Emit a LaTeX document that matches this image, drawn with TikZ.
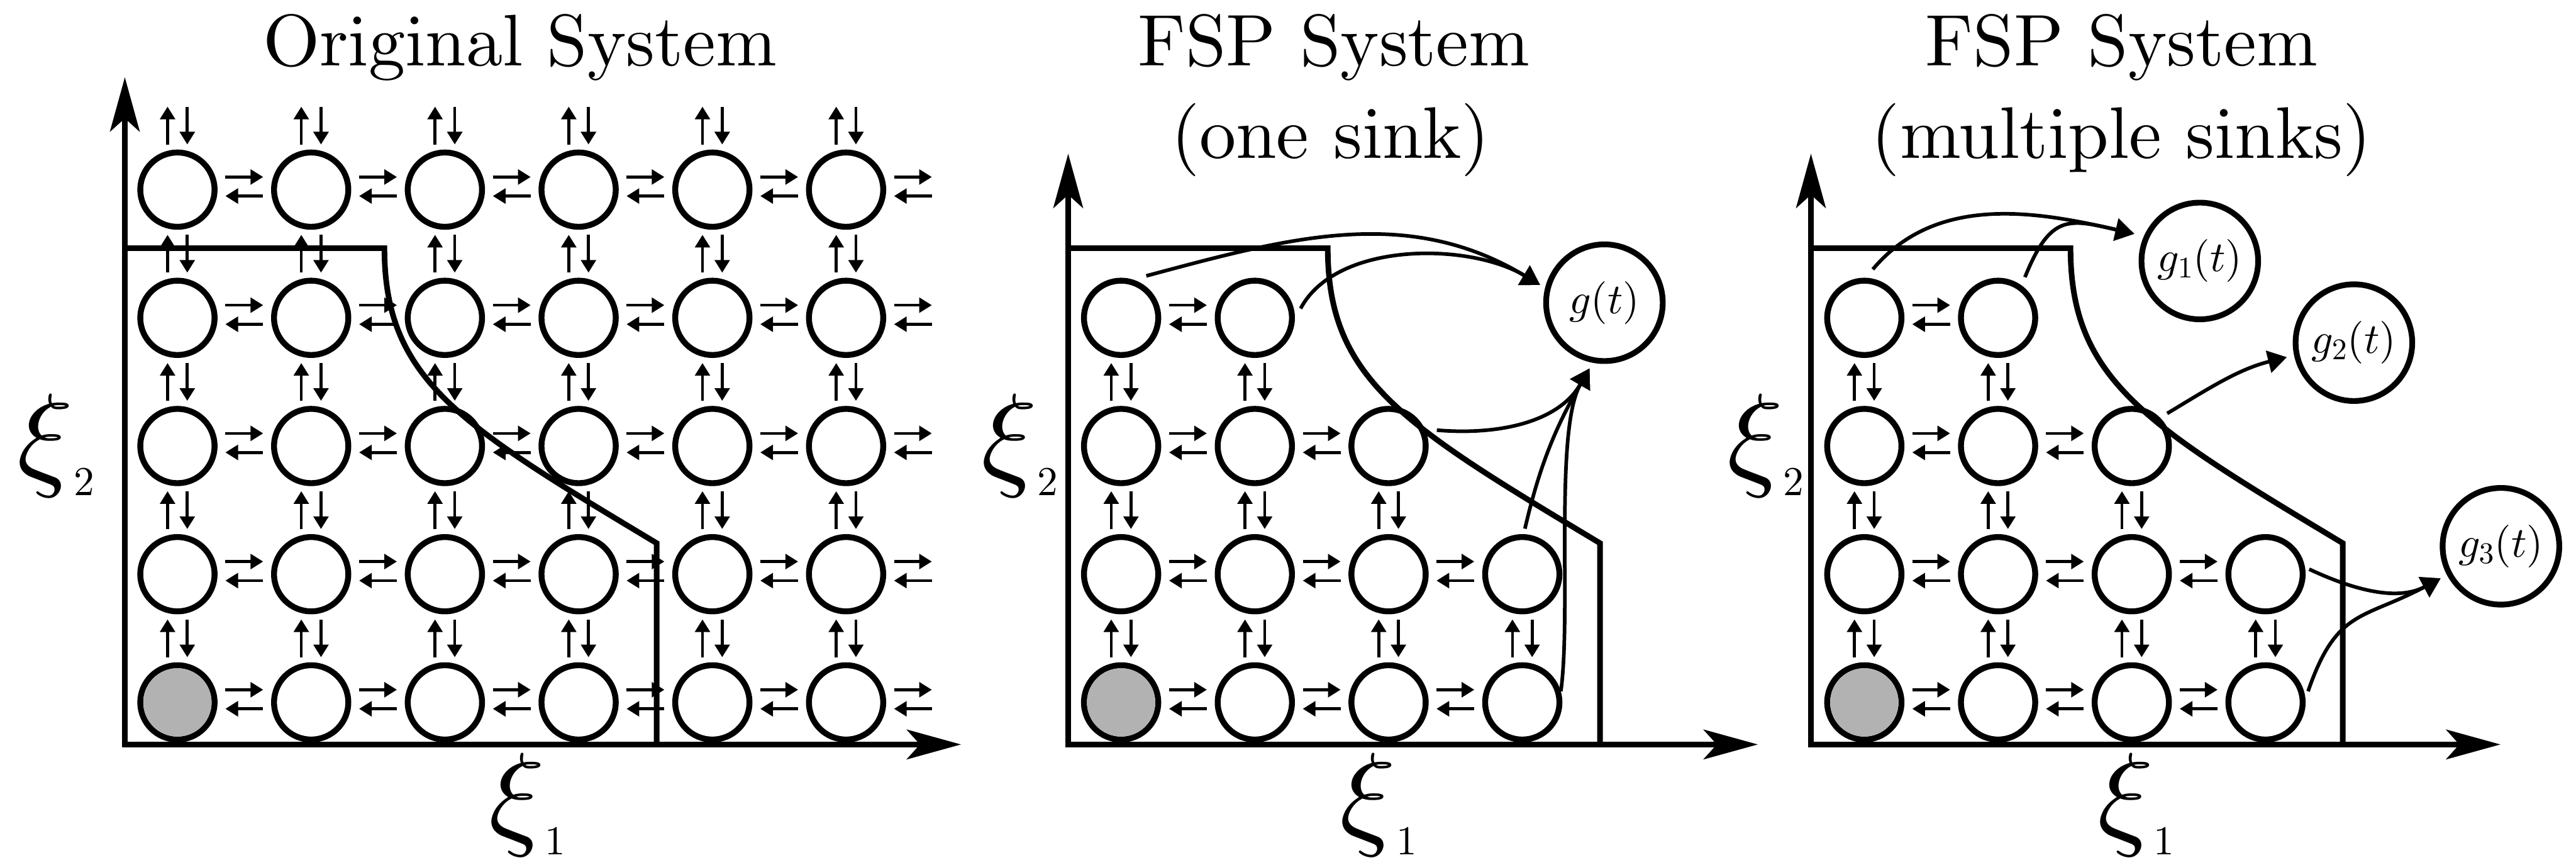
\documentclass[tikz,border=0pt]{standalone}
\DeclareFontShape{OML}{cmm}{m}{it}{<->cmmi10}{}
\DeclareFontShape{OT1}{cmr}{m}{n}{<->cmr10}{}
\usetikzlibrary{arrows.meta,calc}
\newcommand\hpr[1]{%
  \draw[sa] ([shift={(-11.5,7.7)}]#1) -- ([shift={(11.5,7.7)}]#1);
  \draw[sa] ([shift={(11.5,-3.9)}]#1) -- ([shift={(-11.5,-3.9)}]#1);}
\newcommand\vpr[1]{%
  \draw[sa] ([shift={(-6,-11.5)}]#1) -- ([shift={(-6,11.5)}]#1);
  \draw[sa] ([shift={(6,11.5)}]#1) -- ([shift={(6,-11.5)}]#1);}
\newcommand\xil[1]{{\fontsize{70.6}{70}\selectfont$\xi$}\raisebox{-12.5pt}{\fontencoding{OT1}\fontfamily{cmr}\fontsize{25}{25}\selectfont #1}}
\newcommand\ttlfont{\fontencoding{OT1}\fontfamily{cmr}\fontseries{m}\fontshape{n}\fontsize{44.5}{53}\selectfont}
\begin{document}
\begin{tikzpicture}[x=1pt,y=1pt,
  st/.style={circle,draw,line width=3.6pt,minimum size=45.2pt,inner sep=0pt,outer sep=1.8pt},
  sink/.style={circle,draw,line width=3.5pt,minimum size=71pt,inner sep=0pt,outer sep=1.75pt,font=\fontsize{26}{26}\selectfont},
  sa/.style={line width=1.8pt,-{Triangle[length=7.7pt,width=9pt]}},
  axs/.style={line width=3.4pt,{Stealth[length=33pt,width=18pt,inset=8pt]}-{Stealth[length=33pt,width=18pt,inset=8pt]}},
  bd/.style={line width=3.4pt,line join=miter},
  sk/.style={line width=2.2pt,-{Triangle[length=11.5pt,width=13.5pt]}},
  ttl/.style={font=\ttlfont,anchor=base,inner sep=0pt},
  xl/.style={anchor=base west,inner sep=0pt}]
\useasboundingbox (0,0) rectangle (1568,523);

% ---------- titles ----------
\node[ttl] (t1) at (316.6,483) {Original System};
\node[ttl] (t2a) at (812,483) {FSP System};
\node[ttl] (t2b) at (810,426.6) {(one sink)};
\node[ttl] (t3a) at (1291.5,483) {FSP System};
\node[ttl] (t3b) at (1291.5,426.6) {(multiple sinks)};

% ---------- axes ----------
\draw[axs] (76,476) -- (76,70) -- (585,70);
\draw[axs] (650.2,429.5) -- (650.2,70) -- (1070,70);
\draw[axs] (1102.3,429.5) -- (1102.3,70) -- (1522,70);

% ---------- boundaries ----------
\draw[bd] (76,372) -- (234,372) .. controls (234,292) and (279.7,264.5) .. (399.7,192.5) -- (399.7,70);
\draw[bd] (650.2,372) -- (808.2,372) .. controls (808.2,292) and (853.9,264.5) .. (973.9,192.5) -- (973.9,70);
\draw[bd] (1102.3,372) -- (1260.3,372) .. controls (1260.3,292) and (1306,264.5) .. (1426,192.5) -- (1426,70);

% ---------- axis labels ----------
\node[xl] (xa2) at (10.5,234) {\xil{2}};
\node[xl] (xb2) at (597,234) {\xil{2}};
\node[xl] (xc2) at (1051,234) {\xil{2}};
\node[xl] (xa1) at (297.5,15.5) {\xil{1}};
\node[xl] (xb1) at (815.5,15.5) {\xil{1}};
\node[xl] (xc1) at (1276.5,15.5) {\xil{1}};

% ---------- panel 1 ----------
\foreach \c in {1,...,6}{\foreach \r in {1,...,5}{
  \node[st] (a\c\r) at ({108+81.4*(\c-1)},{95.6+78*(\r-1)}) {};}}
\fill[black!30] (a11.center) circle[radius=20.8];
\foreach \r in {1,...,5}{
  \foreach \c [evaluate=\c as \d using int(\c+1)] in {1,...,5}{
    \coordinate (m) at ($(a\c\r)!0.5!(a\d\r)$); \hpr{m}}
  \coordinate (m) at ($(a6\r)+(40.7,0)$); \hpr{m}}
\foreach \c in {1,...,6}{
  \foreach \r [evaluate=\r as \s using int(\r+1)] in {1,...,4}{
    \coordinate (m) at ($(a\c\r)!0.5!(a\c\s)$); \vpr{m}}
  \coordinate (m) at ($(a\c5)+(0,39)$); \vpr{m}}

% ---------- panel 2 ----------
\foreach \c/\n in {1/4,2/4,3/3,4/2}{\foreach \r in {1,...,\n}{
  \node[st] (b\c\r) at ({682.4+81.4*(\c-1)},{95.6+78*(\r-1)}) {};}}
\fill[black!30] (b11.center) circle[radius=20.8];
\foreach \r/\n in {1/3,2/3,3/2,4/1}{
  \foreach \c [evaluate=\c as \d using int(\c+1)] in {1,...,\n}{
    \coordinate (m) at ($(b\c\r)!0.5!(b\d\r)$); \hpr{m}}}
\foreach \c/\n in {1/3,2/3,3/2,4/1}{
  \foreach \r [evaluate=\r as \s using int(\r+1)] in {1,...,\n}{
    \coordinate (m) at ($(b\c\r)!0.5!(b\c\s)$); \vpr{m}}}
\node[sink] (g) at (976.6,338.8) {$g(t)$};
\draw[sk,shorten <=8.5pt,shorten >=3.5pt] (b14.73) to[out=15,in=149] (g.166);
\draw[sk,shorten <=7.4pt,shorten >=3.5pt] (b24.358) to[out=62,in=149,looseness=0.9] (g.166);
\draw[sk,shorten <=7.3pt,shorten >=4pt] (b33.25) to[out=-5,in=240] (g.259);
\draw[sk,shorten <=3.4pt,shorten >=4pt] (b42.88) to[out=77,in=240] (g.259);
\draw[sk,shorten >=4pt] (b41.16) to[out=82,in=240,looseness=0.6] (g.259);

% ---------- panel 3 ----------
\foreach \c/\n in {1/4,2/4,3/3,4/2}{\foreach \r in {1,...,\n}{
  \node[st] (c\c\r) at ({1134.8+81.4*(\c-1)},{95.6+78*(\r-1)}) {};}}
\fill[black!30] (c11.center) circle[radius=20.8];
\foreach \r/\n in {1/3,2/3,3/2,4/1}{
  \foreach \c [evaluate=\c as \d using int(\c+1)] in {1,...,\n}{
    \coordinate (m) at ($(c\c\r)!0.5!(c\d\r)$); \hpr{m}}}
\foreach \c/\n in {1/3,2/3,3/2,4/1}{
  \foreach \r [evaluate=\r as \s using int(\r+1)] in {1,...,\n}{
    \coordinate (m) at ($(c\c\r)!0.5!(c\c\s)$); \vpr{m}}}
\node[sink] (g1) at (1339,364.2) {$g_1(t)$};
\node[sink] (g2) at (1432.8,314.5) {$g_2(t)$};
\node[sink] (g3) at (1522.3,190.6) {$g_3(t)$};
\draw[sk,shorten <=6.7pt,shorten >=6pt] (c14.88) to[out=50,in=167] (g1.156);
\draw[sk,shorten <=5.4pt,shorten >=6pt] (c24.54) to[out=68,in=167,looseness=1.5] (g1.156);
\draw[sk,shorten <=5pt,shorten >=4.5pt] (c33.45) to[out=31,in=194] (g2.192);
\draw[sk,shorten <=2.8pt,shorten >=4.3pt] (c42.10) to[out=-25,in=208] (g3.208);
\draw[sk,shorten <=4.9pt,shorten >=4.3pt] (c41.5) to[out=71,in=208,looseness=1.3] (g3.208);
\end{tikzpicture}
\end{document}
